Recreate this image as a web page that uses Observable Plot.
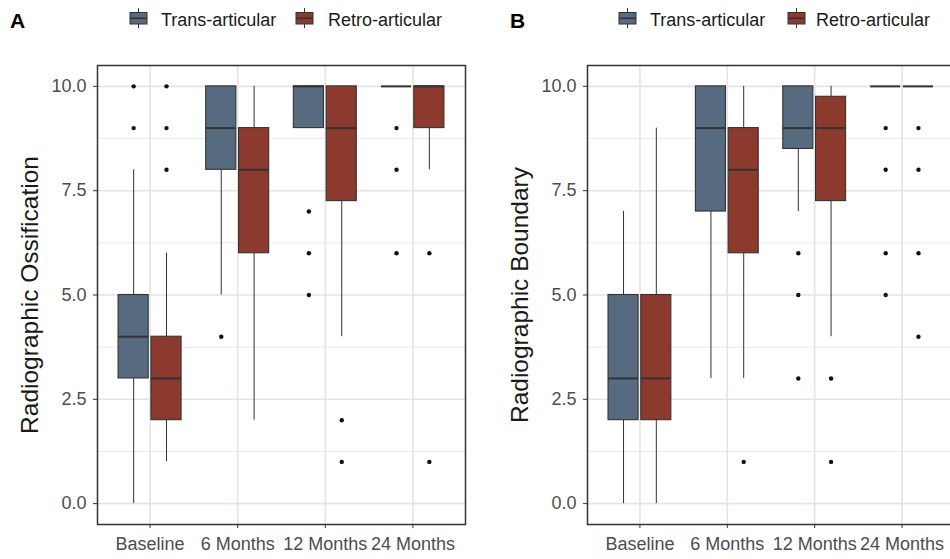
<!DOCTYPE html>
<html>
<head>
<meta charset="utf-8">
<script src="https://cdn.jsdelivr.net/npm/d3@7"></script>
<script src="https://cdn.jsdelivr.net/npm/@observablehq/plot@0.6"></script>
<style>
  html, body { margin: 0; padding: 0; background: #fff; }
  body { width: 950px; height: 559px; overflow: hidden; font-family: "Liberation Sans", Arial, sans-serif; }
  #wrap { display: flex; width: 950px; }
  .panel { width: 475px; flex: 0 0 475px; overflow: hidden; position: relative; }
  .panel svg.plot { max-width: none !important; display: block; }
  .header { position: relative; height: 45px; }
  .tag { position: absolute; top: 9px; font-weight: bold; font-size: 21px; line-height: 24px; color: #000; }
  .lab { position: absolute; top: 10px; font-size: 18px; line-height: 20px; color: #1a1a1a; white-space: nowrap; }
  .key { position: absolute; top: 7px; }
</style>
</head>
<body>
<div id="wrap"></div>
<script>
// ---- data ----
const categories = ["Baseline", "6 Months", "12 Months", "24 Months"];
const groups = ["Trans-articular", "Retro-articular"];
const groupColors = ["#566a80", "#8c3a2e"];
const yTicks = [0, 2.5, 5, 7.5, 10];
const yMinor = [1.25, 3.75, 6.25, 8.75];

// Panel A: Radiographic Ossification
const ossTransQ1   = [3, 8, 9, 10];
const ossTransMed  = [4, 9, 10, 10];
const ossTransQ3   = [5, 10, 10, 10];
const ossTransLo   = [0, 5, 9, 10];
const ossTransHi   = [8, 10, 10, 10];
const ossTransOut  = [[9, 10], [4], [7, 6, 5], [9, 8, 6]];
const ossRetroQ1   = [2, 6, 7.25, 9];
const ossRetroMed  = [3, 8, 9, 10];
const ossRetroQ3   = [4, 9, 10, 10];
const ossRetroLo   = [1, 2, 4, 8];
const ossRetroHi   = [6, 10, 10, 10];
const ossRetroOut  = [[8, 9, 10], [], [2, 1], [6, 1]];

// Panel B: Radiographic Boundary
const bndTransQ1   = [2, 7, 8.5, 10];
const bndTransMed  = [3, 9, 9, 10];
const bndTransQ3   = [5, 10, 10, 10];
const bndTransLo   = [0, 3, 7, 10];
const bndTransHi   = [7, 10, 10, 10];
const bndTransOut  = [[], [], [6, 5, 3], [9, 8, 6, 5]];
const bndRetroQ1   = [2, 6, 7.25, 10];
const bndRetroMed  = [3, 8, 9, 10];
const bndRetroQ3   = [5, 9, 9.75, 10];
const bndRetroLo   = [0, 3, 4, 10];
const bndRetroHi   = [9, 10, 10, 10];
const bndRetroOut  = [[], [1], [3, 1], [9, 8, 6, 4]];

// ---- build ----
const dodge = 0.375, halfW = 0.172;
const gridColor = "#e6e3e1";
const ink = "#333333";

function rowsFor(sets) {
  const rows = [];
  categories.forEach((c, i) => {
    sets.forEach((s, j) => {
      rows.push({
        cat: c, group: groups[j],
        x: i + 1 + (j - 0.5) * dodge,
        q1: s.q1[i], med: s.med[i], q3: s.q3[i], lo: s.lo[i], hi: s.hi[i], out: s.out[i]
      });
    });
  });
  return rows;
}

function makePanel({tag, title, sets, width, marginLeft, marginRight, layout}) {
  const panel = document.createElement("div");
  panel.className = "panel";
  const header = document.createElement("div");
  header.className = "header";
  const t = document.createElement("div");
  t.className = "tag"; t.textContent = tag; t.style.left = layout.tag + "px";
  header.appendChild(t);
  groups.forEach((g, j) => {
    const k = document.createElementNS("http://www.w3.org/2000/svg", "svg");
    k.setAttribute("class", "key");
    k.setAttribute("width", 19); k.setAttribute("height", 22);
    k.style.left = layout.keys[j] + "px";
    k.innerHTML = `<line x1="9.5" x2="9.5" y1="1" y2="21" stroke="${ink}" stroke-width="1"/>
      <rect x="1" y="5.5" width="17" height="11.5" fill="${groupColors[j]}" stroke="${ink}" stroke-width="1"/>
      <line x1="1" x2="18" y1="11.3" y2="11.3" stroke="${ink}" stroke-width="1.6"/>`;
    header.appendChild(k);
    const l = document.createElement("div");
    l.className = "lab"; l.textContent = g; l.style.left = layout.labels[j] + "px";
    header.appendChild(l);
  });
  panel.appendChild(header);

  const rows = rowsFor(sets);
  const outl = rows.flatMap(r => r.out.map(v => ({x: r.x, y: v, group: r.group})));
  const xTicks = categories.map((c, i) => i + 1);

  const chart = Plot.plot({
    width, height: 514,
    marginTop: 20, marginBottom: 35, marginLeft, marginRight,
    style: {fontFamily: "'Liberation Sans', Arial, sans-serif", fontSize: "18px", background: "transparent", overflow: "visible", maxWidth: "none"},
    x: {domain: [0.4, 4.6]},
    y: {domain: [-0.5, 10.5]},
    color: {domain: groups, range: groupColors},
    marks: [
      Plot.gridY(yMinor, {stroke: gridColor, strokeOpacity: 1, strokeWidth: 0.8}),
      Plot.gridY(yTicks, {stroke: gridColor, strokeOpacity: 1, strokeWidth: 1.6}),
      Plot.gridX(xTicks, {stroke: gridColor, strokeOpacity: 1, strokeWidth: 1.6}),
      Plot.ruleX(rows, {x: "x", y1: "lo", y2: "q1", stroke: ink, strokeWidth: 1}),
      Plot.ruleX(rows, {x: "x", y1: "q3", y2: "hi", stroke: ink, strokeWidth: 1}),
      Plot.rect(rows, {x1: d => d.x - halfW, x2: d => d.x + halfW, y1: "q1", y2: "q3", fill: "group", stroke: ink, strokeWidth: 1.1}),
      Plot.ruleY(rows, {y: "med", x1: d => d.x - halfW, x2: d => d.x + halfW, stroke: ink, strokeWidth: 2}),
      Plot.dot(outl, {x: "x", y: "y", r: 2.2, fill: "#111", stroke: null}),
      Plot.frame({stroke: ink, strokeWidth: 1.5}),
      Plot.axisY(yTicks, {tickFormat: d3.format(".1f"), tickSize: 4, tickPadding: 7, stroke: ink, fill: "#4d4d4d", label: null, fontSize: 18}),
      Plot.axisX(xTicks, {tickFormat: d => categories[d - 1], tickSize: 4, tickPadding: 9, stroke: ink, fill: "#4d4d4d", label: null, fontSize: 18}),
      Plot.text([title], {frameAnchor: "left", dx: layout.titleDx, rotate: -90, textAnchor: "middle", lineAnchor: "middle", fontSize: 24.5, fill: "#1a1a1a", text: d => d})
    ]
  });
  chart.style.maxWidth = "none";
  panel.appendChild(chart);
  return panel;
}

const wrap = document.getElementById("wrap");
wrap.appendChild(makePanel({
  tag: "A", title: "Radiographic Ossification",
  sets: [
    {q1: ossTransQ1, med: ossTransMed, q3: ossTransQ3, lo: ossTransLo, hi: ossTransHi, out: ossTransOut},
    {q1: ossRetroQ1, med: ossRetroMed, q3: ossRetroQ3, lo: ossRetroLo, hi: ossRetroHi, out: ossRetroOut}
  ],
  width: 475, marginLeft: 97, marginRight: 10,
  layout: {tag: 10, keys: [129, 295], labels: [161, 328], titleDx: -67}
}));
wrap.appendChild(makePanel({
  tag: "B", title: "Radiographic Boundary",
  sets: [
    {q1: bndTransQ1, med: bndTransMed, q3: bndTransQ3, lo: bndTransLo, hi: bndTransHi, out: bndTransOut},
    {q1: bndRetroQ1, med: bndRetroMed, q3: bndRetroQ3, lo: bndRetroLo, hi: bndRetroHi, out: bndRetroOut}
  ],
  width: 490, marginLeft: 112, marginRight: 11,
  layout: {tag: 35, keys: [143, 312], labels: [175, 341], titleDx: -67}
}));
</script>
</body>
</html>
